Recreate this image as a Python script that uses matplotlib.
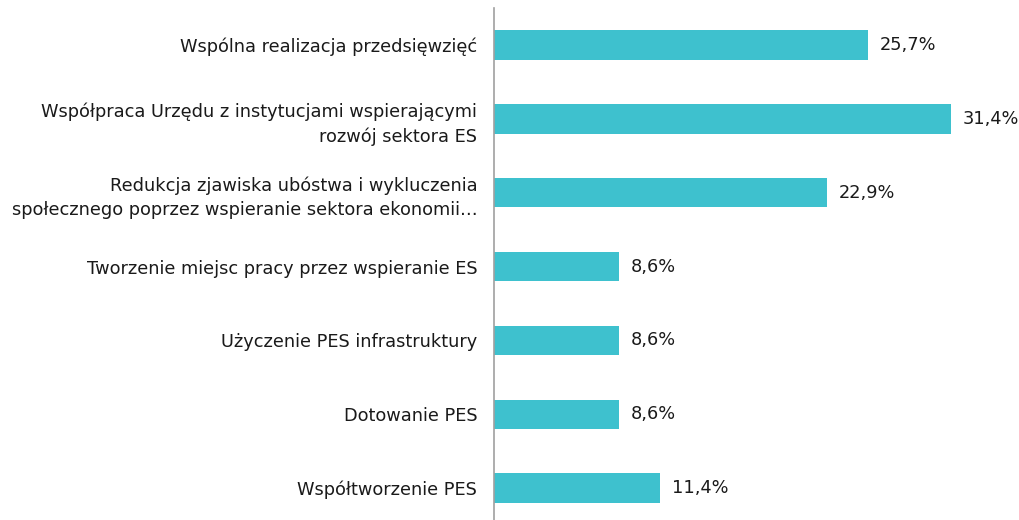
import matplotlib.pyplot as plt

# Data
labels = [
    "Wspólna realizacja przedsięwzięć",
    "Współpraca Urzędu z instytucjami wspierającymi\nrozwój sektora ES",
    "Redukcja zjawiska ubóstwa i wykluczenia\nspołecznego poprzez wspieranie sektora ekonomii…",
    "Tworzenie miejsc pracy przez wspieranie ES",
    "Użyczenie PES infrastruktury",
    "Dotowanie PES",
    "Współtworzenie PES",
]
values = [25.7, 31.4, 22.9, 8.6, 8.6, 8.6, 11.4]
value_labels = ["25,7%", "31,4%", "22,9%", "8,6%", "8,6%", "8,6%", "11,4%"]

BAR_COLOR = "#3EC1CE"
TEXT_COLOR = "#1a1a1a"

fig = plt.figure(figsize=(10.2, 5.2), dpi=100)
ax = fig.add_axes([494 / 1020, 0.0, (1010 - 494) / 1020, 1 - 8 / 520])

ypos = list(range(len(values)))
ax.barh(ypos, values, height=0.4, color=BAR_COLOR)

for y, v, t in zip(ypos, values, value_labels):
    ax.text(v + 0.8, y, t, va="center", ha="left", fontsize=12.8, color=TEXT_COLOR)

ax.set_yticks(ypos)
ax.set_yticklabels(labels, fontsize=12.8, color=TEXT_COLOR, linespacing=1.45)
ax.tick_params(axis="y", length=0, pad=12)
ax.set_xticks([])
ax.set_xlim(0, (1010 - 494) / 14.55)
ax.set_ylim(6.43, -0.5)

for s in ["top", "right", "bottom"]:
    ax.spines[s].set_visible(False)
ax.spines["left"].set_color("#a0a0a0")
ax.spines["left"].set_linewidth(1.2)

plt.savefig("out.png", dpi=100)
